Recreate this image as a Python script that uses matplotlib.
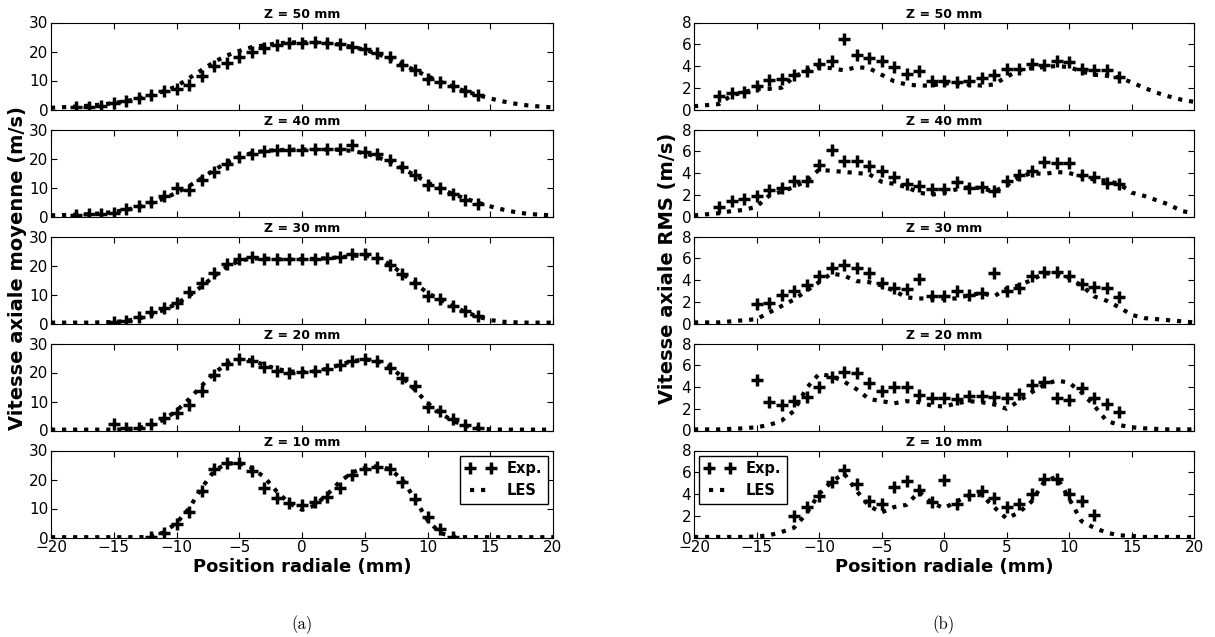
import numpy as np
import matplotlib
matplotlib.use('Agg')
import matplotlib.pyplot as plt

# radial positions (mm)
r_les = np.arange(-20, 21)
r_exp_a = np.arange(-18, 15)   # Z = 50, 40
r_exp_b = np.arange(-15, 15)   # Z = 30, 20
r_exp_c = np.arange(-12, 13)   # Z = 10

heights = ['Z = 50 mm', 'Z = 40 mm', 'Z = 30 mm', 'Z = 20 mm', 'Z = 10 mm']

# (a) mean axial velocity, experiments
mean_exp_50 = [0.8, 1.0, 1.2, 2.2, 3.0, 4.0, 5.0, 6.5, 7.2, 8.5, 11.5, 15.1, 15.9, 18.2, 19.7, 21.3, 22.2,
               22.8, 23.0, 23.2, 22.8, 22.5, 21.7, 20.7, 19.4, 18.2, 15.5, 13.6, 10.4, 9.5, 8.0, 6.4, 5.0]
mean_exp_40 = [0.5, 0.7, 0.9, 1.3, 2.6, 3.5, 4.9, 7.2, 9.8, 9.3, 12.6, 15.3, 18.0, 20.5, 21.7, 22.7, 23.0,
               23.0, 23.0, 23.2, 23.2, 23.3, 24.5, 22.4, 21.5, 19.4, 16.9, 14.2, 11.0, 9.7, 7.8, 5.8, 4.3]
mean_exp_30 = [0.6, 0.9, 2.4, 3.8, 5.2, 7.1, 10.8, 14.0, 17.4, 20.5, 22.4, 22.8, 22.4, 22.2, 22.1,
               22.4, 22.4, 22.6, 22.8, 23.8, 24.0, 22.7, 20.3, 16.9, 13.8, 9.6, 8.5, 6.2, 4.4, 2.7]
mean_exp_20 = [2.1, 0.7, 0.9, 2.3, 4.2, 6.1, 8.8, 13.6, 19.2, 23.1, 24.6, 24.0, 21.9, 20.5, 20.0,
               20.2, 20.5, 21.3, 22.5, 24.0, 24.8, 24.0, 21.7, 18.0, 15.3, 8.0, 6.7, 3.8, 1.8, 0.7]
mean_exp_10 = [0.2, 1.4, 4.5, 8.8, 16.2, 23.5, 25.8, 25.6, 22.9, 17.2, 13.5, 11.9, 11.1, 12.3, 13.8,
               17.2, 21.6, 23.7, 24.2, 23.5, 19.3, 13.2, 6.9, 2.8, 0.2]

# (a) mean axial velocity, LES
mean_les_50 = [0.6, 0.8, 1.0, 1.3, 1.7, 2.2, 2.9, 3.8, 4.9, 6.3, 8.0, 10.8, 13.6, 16.4, 18.6, 20.2, 21.5,
               22.1, 22.8, 23.1, 23.2, 23.1, 22.9, 22.4, 21.6, 20.6, 19.2, 17.5, 15.6, 13.5, 11.5, 9.6,
               7.9, 6.3, 5.0, 3.8, 2.8, 2.0, 1.4, 1.0, 0.7]
mean_les_40 = [0.4, 0.5, 0.6, 0.8, 1.1, 1.6, 2.3, 3.3, 4.6, 6.2, 8.2, 10.5, 13.2, 16.0, 18.6, 20.6, 21.9,
               22.6, 22.9, 23.0, 23.1, 23.1, 23.1, 23.0, 22.6, 21.8, 20.5, 18.8, 16.6, 14.2, 11.8, 9.6,
               7.8, 6.2, 4.8, 3.5, 2.4, 1.5, 0.9, 0.6, 0.4]
mean_les_30 = [0.3, 0.3, 0.3, 0.3, 0.4, 0.5, 0.9, 1.7, 3.0, 4.7, 6.8, 9.5, 12.8, 16.3, 19.5, 21.6, 22.4,
               22.4, 22.2, 22.1, 22.2, 22.3, 22.5, 22.8, 23.3, 23.5, 22.6, 20.4, 17.2, 13.8, 10.6, 8.2,
               6.0, 4.0, 2.4, 1.2, 0.6, 0.4, 0.3, 0.3, 0.3]
mean_les_20 = [0.3, 0.3, 0.3, 0.3, 0.3, 0.3, 0.4, 0.8, 1.8, 3.8, 6.8, 10.8, 15.4, 19.8, 23.0, 24.5, 24.2,
               22.6, 21.2, 20.4, 20.1, 20.4, 21.3, 22.6, 23.9, 24.5, 24.0, 22.0, 18.4, 14.0, 9.5, 6.0,
               3.4, 1.7, 0.8, 0.4, 0.3, 0.3, 0.3, 0.3, 0.3]
mean_les_10 = [0.1, 0.1, 0.1, 0.1, 0.1, 0.1, 0.1, 0.1, 0.3, 1.8, 5.0, 10.0, 17.0, 23.0, 25.5, 25.6, 24.0,
               20.8, 15.8, 11.8, 9.6, 11.0, 14.8, 19.2, 22.4, 24.0, 24.6, 23.6, 20.0, 13.2, 6.0, 1.6,
               0.3, 0.1, 0.1, 0.1, 0.1, 0.1, 0.1, 0.1, 0.1]

# (b) RMS axial velocity, experiments
rms_exp_50 = [1.2, 1.5, 1.6, 2.2, 2.7, 2.8, 3.2, 3.5, 4.2, 4.5, 6.5, 5.0, 4.7, 4.5, 3.9, 3.3, 3.5,
              2.6, 2.6, 2.5, 2.6, 2.9, 3.2, 3.7, 3.7, 4.2, 4.1, 4.5, 4.4, 3.7, 3.6, 3.6, 3.0]
rms_exp_40 = [0.9, 1.4, 1.6, 1.9, 2.4, 2.6, 3.3, 3.3, 4.7, 6.1, 5.1, 5.1, 4.6, 4.2, 3.6, 3.0, 2.8,
              2.5, 2.5, 3.2, 2.6, 2.7, 2.3, 3.3, 3.8, 4.2, 5.0, 4.9, 4.9, 3.8, 3.6, 3.1, 3.0]
rms_exp_30 = [1.75, 1.85, 2.6, 3.0, 3.5, 4.4, 5.1, 5.4, 5.1, 4.6, 3.75, 3.3, 3.2, 4.1, 2.5,
              2.5, 3.0, 2.6, 2.8, 4.6, 3.0, 3.3, 4.4, 4.7, 4.7, 4.4, 3.6, 3.4, 3.3, 2.4]
rms_exp_20 = [4.6, 2.65, 2.3, 2.7, 3.1, 4.0, 4.9, 5.4, 5.3, 4.4, 3.6, 4.0, 4.0, 3.3, 3.0,
              3.0, 2.9, 3.2, 3.2, 3.1, 3.0, 3.4, 4.2, 4.5, 3.0, 2.8, 3.9, 3.0, 2.4, 1.7]
rms_exp_10 = [2.0, 2.8, 3.85, 5.1, 6.2, 4.9, 3.4, 3.1, 4.6, 5.2, 4.4, 3.3, 5.3, 3.1, 3.9,
              4.3, 3.6, 2.8, 3.1, 4.0, 5.4, 5.4, 4.0, 3.4, 2.1]

# (b) RMS axial velocity, LES
rms_les_50 = [0.3, 0.4, 0.5, 1.3, 1.6, 1.9, 1.9, 2.0, 3.0, 3.6, 3.9, 3.8, 3.6, 3.9, 3.8, 3.2, 2.6,
              2.3, 2.2, 2.2, 2.4, 2.4, 2.3, 2.2, 2.3, 3.0, 3.6, 3.8, 3.9, 4.0, 3.9, 3.5, 3.2, 3.1,
              2.95, 2.5, 2.0, 1.55, 1.2, 0.9, 0.7]
rms_les_40 = [0.1, 0.2, 0.3, 0.5, 0.6, 0.9, 1.9, 2.3, 2.7, 3.3, 4.3, 4.2, 4.1, 4.0, 3.9, 3.2, 3.0,
              2.7, 2.2, 2.0, 2.2, 2.5, 2.7, 2.6, 2.3, 2.85, 3.6, 4.0, 3.9, 4.1, 4.0, 3.7, 3.4, 3.3,
              3.0, 2.2, 1.9, 1.5, 1.1, 0.5, 0.3]
rms_les_30 = [0.1, 0.1, 0.1, 0.2, 0.3, 0.4, 1.0, 1.6, 2.2, 3.0, 3.8, 4.6, 4.4, 3.9, 3.8, 3.5, 3.0,
              2.4, 2.3, 2.3, 2.3, 2.3, 2.6, 2.8, 2.5, 3.2, 3.5, 4.0, 4.6, 4.6, 4.2, 3.5, 2.5, 2.1,
              1.5, 0.8, 0.5, 0.4, 0.3, 0.2, 0.1]
rms_les_20 = [0.1, 0.1, 0.1, 0.15, 0.2, 0.3, 0.5, 0.9, 1.8, 3.9, 5.2, 5.0, 4.5, 3.8, 2.9, 2.7, 2.5,
              2.7, 2.6, 2.3, 2.2, 2.5, 2.7, 2.6, 2.4, 2.0, 2.7, 3.5, 4.2, 4.6, 4.4, 3.5, 2.3, 0.9,
              0.5, 0.3, 0.2, 0.15, 0.1, 0.1, 0.1]
rms_les_10 = [0.05, 0.05, 0.05, 0.05, 0.05, 0.1, 0.2, 0.5, 0.9, 2.2, 4.0, 5.1, 5.9, 4.3, 2.9, 2.3,
              2.8, 3.0, 4.2, 3.2, 2.7, 3.3, 3.9, 3.9, 2.8, 1.75, 2.3, 3.3, 5.1, 5.6, 3.6, 1.5, 0.9,
              0.45, 0.2, 0.15, 0.05, 0.05, 0.05, 0.05, 0.05]

mean_exp = [mean_exp_50, mean_exp_40, mean_exp_30, mean_exp_20, mean_exp_10]
mean_les = [mean_les_50, mean_les_40, mean_les_30, mean_les_20, mean_les_10]
rms_exp = [rms_exp_50, rms_exp_40, rms_exp_30, rms_exp_20, rms_exp_10]
rms_les = [rms_les_50, rms_les_40, rms_les_30, rms_les_20, rms_les_10]
r_exp = [r_exp_a, r_exp_a, r_exp_b, r_exp_b, r_exp_c]

plt.rcParams['xtick.direction'] = 'in'
plt.rcParams['ytick.direction'] = 'in'
plt.rcParams['xtick.top'] = True
plt.rcParams['ytick.right'] = True
plt.rcParams['xtick.major.size'] = 4
plt.rcParams['ytick.major.size'] = 4

W, H = 1215., 637.
fig = plt.figure(figsize=(12.15, 6.37), dpi=100)

def column(x0, x1, exp_vals, les_vals, ymax, yticks, legend_loc):
    axes = []
    for i in range(5):
        top = 22.5 + i * 107
        bot = top + 87
        ax = fig.add_axes([x0 / W, 1 - bot / H, (x1 - x0) / W, (bot - top) / H])
        ax.plot(r_exp[i], exp_vals[i], '+', color='k', ms=8.5, mew=2.5, label='Exp.')
        ax.plot(r_les, les_vals[i], ':', color='k', lw=3, label='LES')
        ax.set_xlim(-20, 20)
        ax.set_ylim(0, ymax)
        ax.set_xticks(range(-20, 21, 5))
        ax.set_yticks(yticks)
        ax.tick_params(labelsize=11, pad=2)
        ax.set_title(heights[i], fontsize=9, fontweight='bold', pad=3)
        if i < 4:
            ax.set_xticklabels([])
        axes.append(ax)
    axes[-1].legend(loc=legend_loc, numpoints=2, prop={'weight': 'bold', 'size': 10.5},
                    fancybox=False, framealpha=1, edgecolor='k', handlelength=2.0,
                    labelspacing=0.45, borderaxespad=0.35)
    return axes

ax_a = column(51, 553, mean_exp, mean_les, 30, [0, 10, 20, 30], 'upper right')
ax_b = column(694, 1194, rms_exp, rms_les, 8, [0, 2, 4, 6, 8], 'upper left')

ax_a[-1].set_xlabel('Position radiale (mm)', fontsize=13, fontweight='bold', labelpad=2)
ax_b[-1].set_xlabel('Position radiale (mm)', fontsize=13, fontweight='bold', labelpad=2)
fig.text(18 / W, 1 - 268 / H, 'Vitesse axiale moyenne (m/s)', rotation=90, fontsize=14,
         fontweight='bold', ha='center', va='center')
fig.text(667 / W, 1 - 268 / H, 'Vitesse axiale RMS (m/s)', rotation=90, fontsize=14,
         fontweight='bold', ha='center', va='center')
fig.text(302 / W, 1 - 625 / H, '(a)', fontsize=12, family='cmr10', ha='center', va='center')
fig.text(944 / W, 1 - 625 / H, '(b)', fontsize=12, family='cmr10', ha='center', va='center')

fig.savefig('out.png', dpi=100)
